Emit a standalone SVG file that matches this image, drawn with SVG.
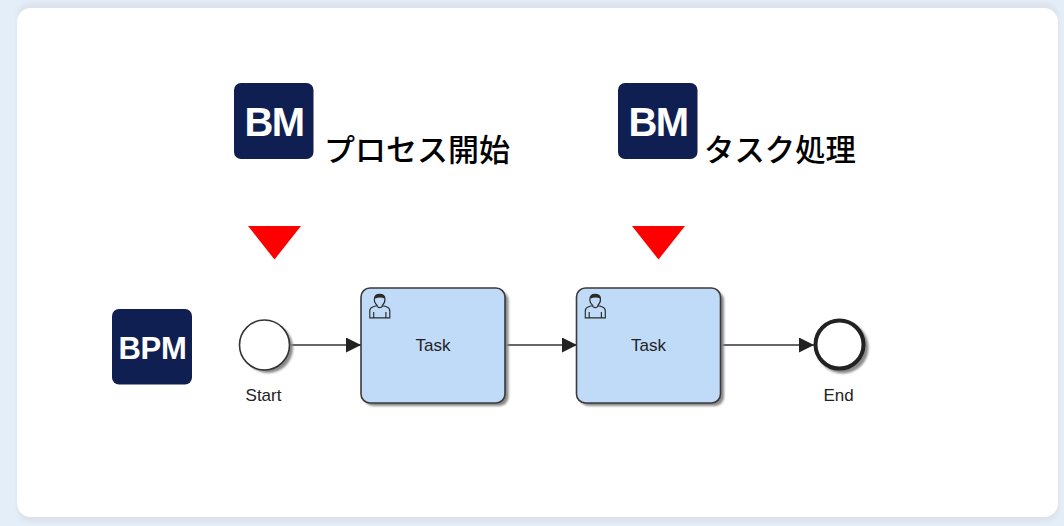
<svg xmlns="http://www.w3.org/2000/svg" width="1064" height="526" viewBox="0 0 1064 526">
<defs>
<filter id="soft" x="-5%" y="-5%" width="110%" height="110%"><feGaussianBlur stdDeviation="2"/></filter>
<filter id="b1" x="-10%" y="-10%" width="120%" height="120%"><feGaussianBlur stdDeviation="1"/></filter>
<marker id="arrow" markerUnits="userSpaceOnUse" markerWidth="16" markerHeight="16" refX="15" refY="7.5" orient="auto"><path d="M0,0 L15,7.5 L0,15 Z" fill="#222"/></marker>
<g id="user"><path d="M4.6,22 V15.8 Q4.6,13.4 7.6,12.4 L11,11.2 Q8.3,9 8.6,5.5 Q9,1.6 13,1.6 Q17.6,1.6 17.8,5.5 Q18,9 15.5,11.2 L19,12.4 Q22,13.4 22,15.8 V22 Z M8,22 V17 M18.6,22 V17 M10.6,11.6 Q13.3,14.8 16,11.6" fill="none" stroke="#2a2a2a" stroke-width="1"/><path d="M8.7,5.5 Q9,1.6 13,1.6 Q17.6,1.6 17.8,5.5 Q14,3.2 8.7,5.5 Z" fill="#2a2a2a"/></g>
</defs>
<style>
.cap{font-family:"Liberation Sans",Arial,sans-serif;font-size:17px;fill:#222;text-anchor:middle}
.ja{font-family:"Noto Sans CJK JP","Liberation Sans",sans-serif;font-size:31px;font-weight:500;fill:#000}
.logo{font-family:"Liberation Sans",Arial,sans-serif;font-weight:700;fill:#fff;text-anchor:middle}
.badge{fill:#101f52}
.mark{fill:#ff0000}
.task{fill:#c0dbf7;stroke:#3a3a3a;stroke-width:1.6}
.shadow{fill:#8a8a8a}
.edge{stroke:#333;stroke-width:1.3;fill:none;marker-end:url(#arrow)}
</style>
<rect width="1064" height="526" fill="#e4eef9"/>
<rect x="17" y="3" width="1042" height="519" rx="14" fill="#d8dbe0" opacity=".6" filter="url(#soft)"/>
<rect x="17" y="8" width="1041" height="509" rx="14" fill="#fff"/>

<g id="connectors">
<path class="edge" d="M291,345 H361"/>
<path class="edge" d="M505,345 H577"/>
<path class="edge" d="M721,345 H814"/>
</g>

<g id="logo-bpm"><rect class="badge" x="112" y="309" width="80" height="75.5" rx="7"/><text class="logo" x="152.500" y="358.500" font-size="31" letter-spacing="-0.300">BPM</text></g>
<g id="logo-bm-1"><rect class="badge" x="234" y="83" width="79.500" height="76" rx="7"/><text class="logo" x="274" y="136" font-size="40" letter-spacing="-1.500">BM</text></g>
<g id="logo-bm-2"><rect class="badge" x="618" y="83" width="79.500" height="76" rx="7"/><text class="logo" x="658" y="136" font-size="40" letter-spacing="-1.500">BM</text></g>

<g id="label-start-process"><text class="ja" x="324" y="161">プロセス開始</text></g>
<g id="label-task-process"><text class="ja" x="704" y="161" style="font-size:30.400px">タスク処理</text></g>

<g id="marker-1"><polygon class="mark" points="248,226 301,226 274.500,259.500"/></g>
<g id="marker-2"><polygon class="mark" points="632,226 685,226 658.500,259.500"/></g>

<g id="start">
<circle class="shadow" cx="268" cy="348" r="25" filter="url(#b1)"/>
<circle cx="264.500" cy="345" r="25" fill="#fff" stroke="#333" stroke-width="1.600"/>
<text class="cap" x="263.500" y="401">Start</text>
</g>
<g id="task-1">
<rect class="shadow" x="364" y="291" width="144.500" height="115" rx="9" filter="url(#b1)"/>
<rect class="task" x="361" y="288" width="144" height="115" rx="9"/>
<use href="#user" transform="translate(364.500,292.500) scale(1.150)"/>
<text class="cap" x="433" y="351">Task</text>
</g>
<g id="task-2">
<rect class="shadow" x="579.500" y="291" width="144.500" height="115" rx="9" filter="url(#b1)"/>
<rect class="task" x="576.500" y="288" width="144" height="115" rx="9"/>
<use href="#user" transform="translate(580,292.500) scale(1.150)"/>
<text class="cap" x="648.500" y="351">Task</text>
</g>
<g id="end">
<circle class="shadow" cx="842.500" cy="347.500" r="26" filter="url(#b1)"/>
<circle cx="839.500" cy="344.500" r="24" fill="#fff" stroke="#222" stroke-width="4"/>
<text class="cap" x="838.500" y="401">End</text>
</g>
</svg>
